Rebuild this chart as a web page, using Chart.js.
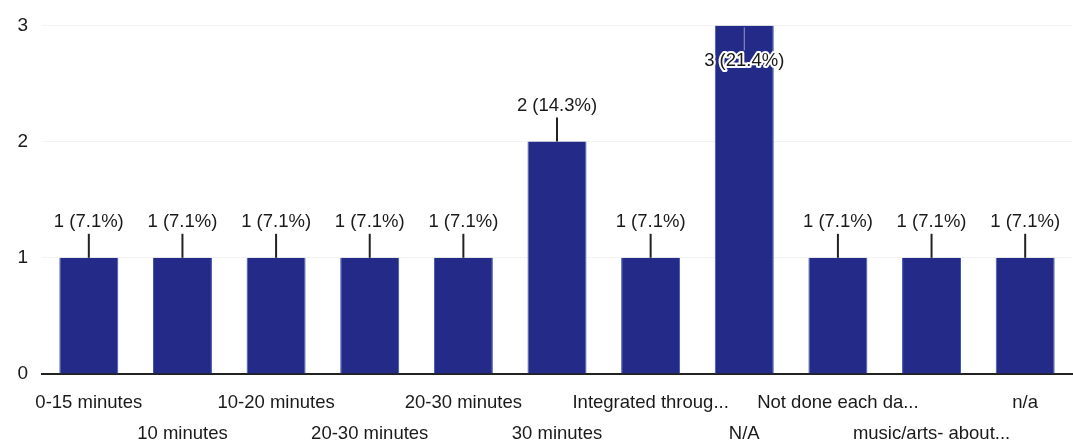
<!DOCTYPE html>
<html>
<head>
<meta charset="utf-8">
<script src="https://cdn.jsdelivr.net/npm/chart.js@4"></script>
<style>
  html, body { margin: 0; padding: 0; background: #fff; }
  #wrap { width: 1073px; height: 445px; }
</style>
</head>
<body>
<div id="wrap"><canvas id="barChart" width="1073" height="445"></canvas></div>
<script>
'use strict'

var categories = ['0-15 minutes', '10 minutes', '10-20 minutes', '20-30 minutes', '20-30 minutes',
    '30 minutes', 'Integrated throug...', 'N/A', 'Not done each da...', 'music/arts- about...', 'n/a']
var counts = [1, 1, 1, 1, 1, 2, 1, 3, 1, 1, 1]
var yTicks = [0, 1, 2, 3]

var total = counts.reduce(function (a, b) { return a + b }, 0)

//------------------
//- VALUE LABELS   -
//------------------
var valueLabels = {
    id: 'valueLabels',
    afterDatasetsDraw: function (chart) {
        var ctx = chart.ctx
        var meta = chart.getDatasetMeta(0)
        ctx.save()
        ctx.font = '18.5px "Liberation Sans", Arial, sans-serif'
        ctx.textAlign = 'center'
        ctx.textBaseline = 'middle'
        meta.data.forEach(function (bar, i) {
            var v = counts[i]
            var text = v + ' (' + (v / total * 100).toFixed(1) + '%)'
            var inside = bar.y - 36 < chart.chartArea.top
            if (inside) {
                var ty = bar.y + 36
                ctx.strokeStyle = 'rgba(220,230,245,0.6)'
                ctx.lineWidth = 1
                ctx.beginPath()
                ctx.moveTo(bar.x, bar.y + 2)
                ctx.lineTo(bar.x, ty - 11)
                ctx.stroke()
                ctx.lineJoin = 'round'
                ctx.strokeStyle = '#ffffff'
                ctx.lineWidth = 4
                ctx.strokeText(text, bar.x, ty)
                ctx.fillStyle = '#1a1a1a'
                ctx.fillText(text, bar.x, ty)
            } else {
                var ly = bar.y - 36
                ctx.strokeStyle = '#222'
                ctx.lineWidth = 2
                ctx.beginPath()
                ctx.moveTo(bar.x, ly + 12)
                ctx.lineTo(bar.x, bar.y)
                ctx.stroke()
                ctx.fillStyle = '#1a1a1a'
                ctx.fillText(text, bar.x, ly)
            }
        })
        ctx.restore()
    }
}

var barCanvas = document.getElementById('barChart').getContext('2d')

new Chart(barCanvas, {
    type: 'bar',
    data: {
        labels: categories,
        datasets: [{
            data: counts,
            backgroundColor: '#242a88',
            borderColor: '#3a52b0',
            borderWidth: { left: 1, right: 1, top: 0, bottom: 0 },
            barPercentage: 0.63,
            categoryPercentage: 1.0
        }]
    },
    options: {
        responsive: false,
        animation: false,
        layout: { padding: { top: 25, right: 1, bottom: 0, left: 0 } },
        plugins: {
            legend: { display: false },
            tooltip: { enabled: false }
        },
        scales: {
            x: {
                grid: { display: false },
                border: { display: true, color: '#222', width: 2 },
                afterFit: function (scale) { scale.height = 71 },
                ticks: {
                    autoSkip: false,
                    maxRotation: 0,
                    padding: 6,
                    color: '#1a1a1a',
                    font: { family: '"Liberation Sans", Arial, sans-serif', size: 18.5, lineHeight: 1.65 },
                    callback: function (val, idx) {
                        var label = categories[idx]
                        return idx % 2 ? ['', label] : label
                    }
                }
            },
            y: {
                min: 0,
                max: 3,
                afterFit: function (scale) { scale.width = 42 },
                afterBuildTicks: function (scale) {
                    scale.ticks = yTicks.map(function (v) { return { value: v } })
                },
                grid: { color: '#f3f3f3', drawTicks: false },
                border: { display: false },
                ticks: {
                    padding: 14,
                    color: '#1a1a1a',
                    font: { family: '"Liberation Sans", Arial, sans-serif', size: 19 }
                }
            }
        }
    },
    plugins: [valueLabels]
})
</script>
</body>
</html>
